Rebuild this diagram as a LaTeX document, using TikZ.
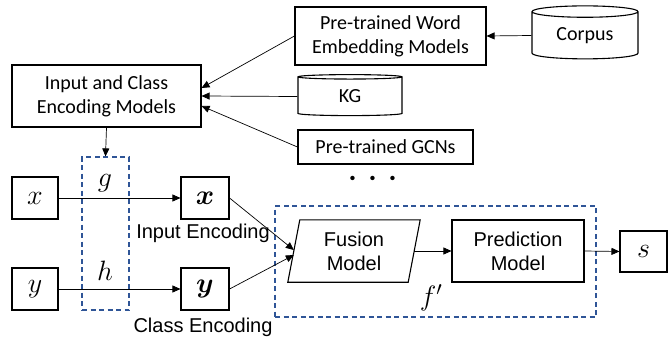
\RequirePackage{fix-cm}
\documentclass[tikz,border=0pt]{standalone}
\usepackage{amsmath,bm}
\usepackage{fontspec}
\setmainfont{Carlito}
\newfontfamily\arialfont{Liberation Sans}
\usetikzlibrary{shapes.geometric,arrows.meta,positioning}
\definecolor{dashblue}{RGB}{47,85,151}

\begin{document}
\begin{tikzpicture}[x=1pt,y=-1pt,font=\fontsize{20}{24}\selectfont,
    box/.style={draw,line width=1.1pt,align=center,inner sep=0pt},
    db/.style={draw,line width=1.1pt,cylinder,shape border rotate=90,aspect=0.2,inner sep=0pt},
    grp/.style={draw=dashblue,dash pattern=on 5pt off 3.5pt,line width=1.2pt,inner sep=0pt},
    link/.style={->,line width=0.7pt},
    sym/.style={font=\fontsize{28}{30}\selectfont},
    arial/.style={font=\arialfont\fontsize{20}{24}\selectfont},
    >={Triangle[length=8pt,width=7pt]}]
    \useasboundingbox (0,0) rectangle (668,339);

    % sources of the encoders
    \node[box,minimum width=189pt,minimum height=62pt] (encm) at (106.5,96) {Input and Class\\Encoding Models};
    \node[box,minimum width=191pt,minimum height=58pt] (word) at (390.5,36) {Pre-trained Word\\Embedding Models};
    \node[db,minimum width=106pt,minimum height=53pt] (corpus) at (585,35.5) {Corpus};
    \node[db,minimum width=104pt,minimum height=41pt] (kg) at (350,96.5) {KG};
    \node[box,minimum width=175pt,minimum height=34pt] (gcn) at (385.5,147) {Pre-trained GCNs};
    \node[sym,inner sep=0pt] (dots) at (373,179) {$\boldsymbol{\cdot}\,\boldsymbol{\cdot}\,\boldsymbol{\cdot}$};

    \draw[link] (corpus.west) -- (word.east);
    \draw[link] (word.west) -- ([yshift=8pt]encm.east);
    \draw[link] (kg.west) -- (encm.east);
    \draw[link] (gcn.west) -- ([yshift=-10pt]encm.east);

    % encoding of input and class
    \node[grp,minimum width=47pt,minimum height=153pt] (gh) at (105.5,233.5) {};
    \draw[link] (encm.south) -- (gh.north);

    \node[box,sym,minimum width=46pt,minimum height=42pt] (xin) at (35,198) {$x$};
    \node[box,sym,minimum width=46pt,minimum height=42pt] (yin) at (35,289) {$y$};
    \node[box,sym,minimum width=48pt,minimum height=42pt] (xenc) at (205,198) {$\bm{x}$};
    \node[box,sym,minimum width=48pt,minimum height=42pt] (yenc) at (205,289) {$\bm{y}$};
    \node[sym] (g) at (105,183) {$g$};
    \node[sym] (h) at (105,271) {$h$};
    \node[arial] (xlab) at (203,233) {Input Encoding};
    \node[arial] (ylab) at (203,327) {Class Encoding};

    \draw[link] (xin) -- (xenc);
    \draw[link] (yin) -- (yenc);

    % fusion and prediction
    \node[grp,minimum width=321pt,minimum height=111pt] (fgrp) at (435.5,261.5) {};
    \node[arial,align=center,inner sep=0pt,minimum width=120pt,minimum height=62pt] (fuse) at (354,251) {Fusion\\Model};
    \draw[line width=1.1pt] ([xshift=-6pt]fuse.south west) -- ([xshift=6pt]fuse.north west)
        -- ([xshift=6pt]fuse.north east) -- ([xshift=-6pt]fuse.south east) -- cycle;
    \node[box,arial,minimum width=132pt,minimum height=62pt] (pred) at (518,251) {Prediction\\Model};
    \node[box,sym,minimum width=47pt,minimum height=41pt] (s) at (643.5,251.5) {$s$};
    \node[sym] (fp) at (431,298) {$f'$};

    \draw[link] (xenc.east) -- ([yshift=1pt]fuse.west);
    \draw[link] (yenc.east) -- ([yshift=-4pt]fuse.west);
    \draw[link] (fuse.east) -- (pred.west);
    \draw[link] (pred.east) -- (s.west);
\end{tikzpicture}
\end{document}
